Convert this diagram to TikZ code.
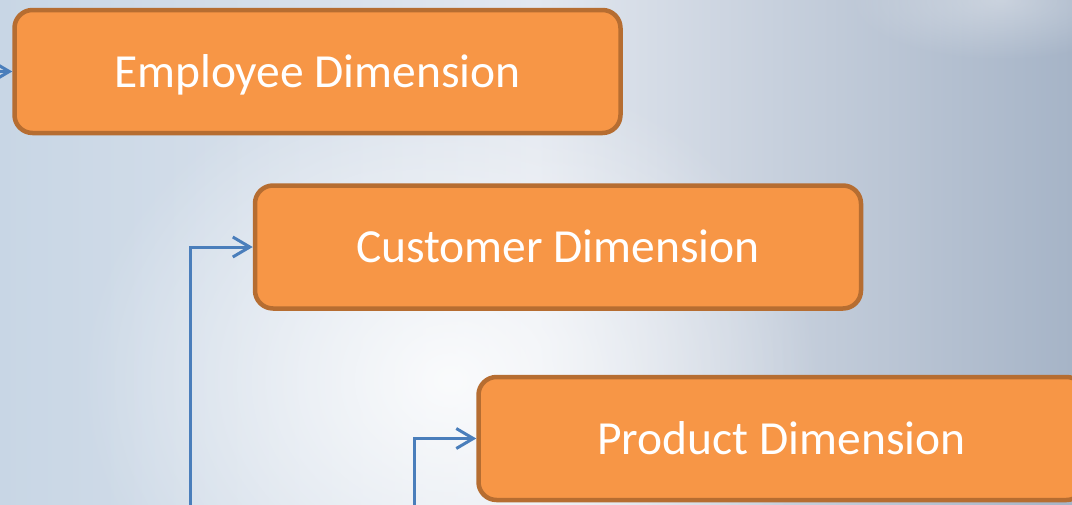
\documentclass[tikz,border=0pt]{standalone}
\usepackage{fontspec}
\setmainfont{Carlito}
\usetikzlibrary{arrows.meta,fadings}
\definecolor{boxfill}{HTML}{F79646}
\definecolor{boxline}{HTML}{B66D31}
\definecolor{conn}{HTML}{4A7EBB}
\definecolor{bgleft}{HTML}{C8D6E5}
\definecolor{bgmid}{HTML}{E2E7EF}
\definecolor{bgright}{HTML}{A6B4C7}
\tikzfading[name=softglow, inner color=transparent!0, outer color=transparent!100]
\tikzset{
  dimbox/.style={draw=boxline, line width=4.5pt, fill=boxfill, rounded corners=18pt,
    minimum width=606pt, minimum height=123pt, inner sep=0pt,
    text height=31pt, text depth=0pt,
    text=white, font=\fontsize{47.5}{54}\selectfont},
  connector/.style={draw=conn, line width=3pt,
    -{Straight Barb[length=17pt,width=20pt,line width=3pt]}}
}
\begin{document}
\begin{tikzpicture}[x=1pt,y=-1pt]
\useasboundingbox (0,0) rectangle (1072,504);
\clip (0,0) rectangle (1072,504);
% background
\shade[left color=bgleft, right color=bgright, middle color=bgmid] (0,0) rectangle (1072,504);
\fill[white, path fading=softglow, fit fading=true, opacity=0.85] (80,60) rectangle (820,700);
\fill[white, path fading=softglow, fit fading=true, opacity=0.35] (850,-60) rectangle (1150,60);
% boxes
\node[dimbox] (emp) at (317.5,71.5) {Employee Dimension};
\node[dimbox] (cust) at (558,247) {Customer Dimension};
\node[dimbox] (prod) at (781.5,438.5) {Product Dimension};
% connector ends
\coordinate (ea) at (-10,71.5);
\coordinate (cb) at (190,520);
\coordinate (pb) at (414,520);
\draw[connector] (ea) -- (emp.west);
\draw[connector] (cb) |- (cust.west);
\draw[connector] (pb) |- (prod.west);
\end{tikzpicture}
\end{document}
